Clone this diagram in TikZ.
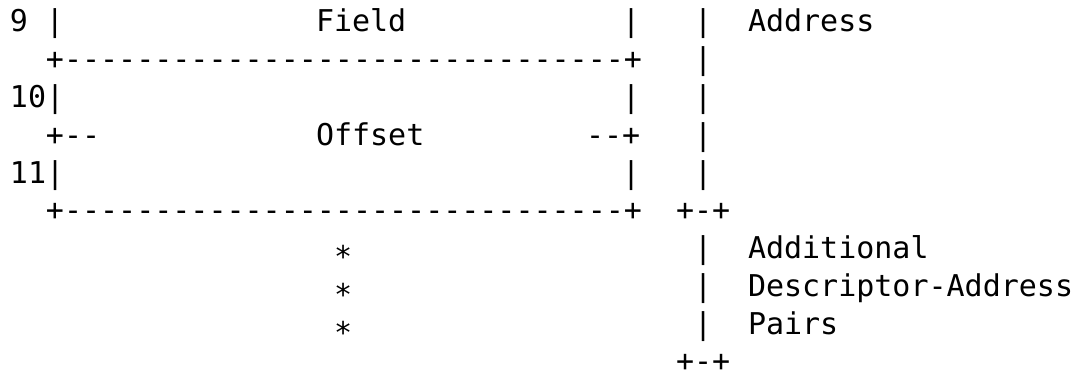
\documentclass[tikz,border=0pt]{standalone}
\usepackage{fontspec}
\setmonofont{DejaVu Sans Mono}
\begin{document}
\begin{tikzpicture}[x=1pt,y=1pt,
  ascii/.style={anchor=base west, inner sep=0pt, outer sep=0pt,
    font=\ttfamily\fontsize{15pt}{15pt}\selectfont}]
\newcommand\asc[4]{\node[ascii] (#1) at ({5+9*#2},{-16-18.875*(#3-1)}) {#4};}
\newcommand\lowstar{\raisebox{-0.3em}{*}}
\useasboundingbox (0,0) rectangle (536,-187.5);
% line 1
\asc{n9}{0}{1}{9}
\asc{la}{2}{1}{|}
\asc{field}{17}{1}{Field}
\asc{ra}{34}{1}{|}
\asc{va}{38}{1}{|}
\asc{address}{41}{1}{Address}
% line 2
\asc{topb}{2}{2}{+-------------------------------+}
\asc{vb}{38}{2}{|}
% line 3
\asc{n10}{0}{3}{10|}
\asc{rc}{34}{3}{|}
\asc{vc}{38}{3}{|}
% line 4
\asc{ml}{2}{4}{+--}
\asc{offset}{17}{4}{Offset}
\asc{mr}{32}{4}{--+}
\asc{vd}{38}{4}{|}
% line 5
\asc{n11}{0}{5}{11|}
\asc{re}{34}{5}{|}
\asc{ve}{38}{5}{|}
% line 6
\asc{botb}{2}{6}{+-------------------------------+}
\asc{bra}{37}{6}{+-+}
% lines 7-9
\asc{s1}{18}{7}{\lowstar}
\asc{vf}{38}{7}{|}
\asc{additional}{41}{7}{Additional}
\asc{s2}{18}{8}{\lowstar}
\asc{vg}{38}{8}{|}
\asc{descr}{41}{8}{Descriptor-Address}
\asc{s3}{18}{9}{\lowstar}
\asc{vh}{38}{9}{|}
\asc{pairs}{41}{9}{Pairs}
% line 10
\asc{brb}{37}{10}{+-+}
\end{tikzpicture}
\end{document}
